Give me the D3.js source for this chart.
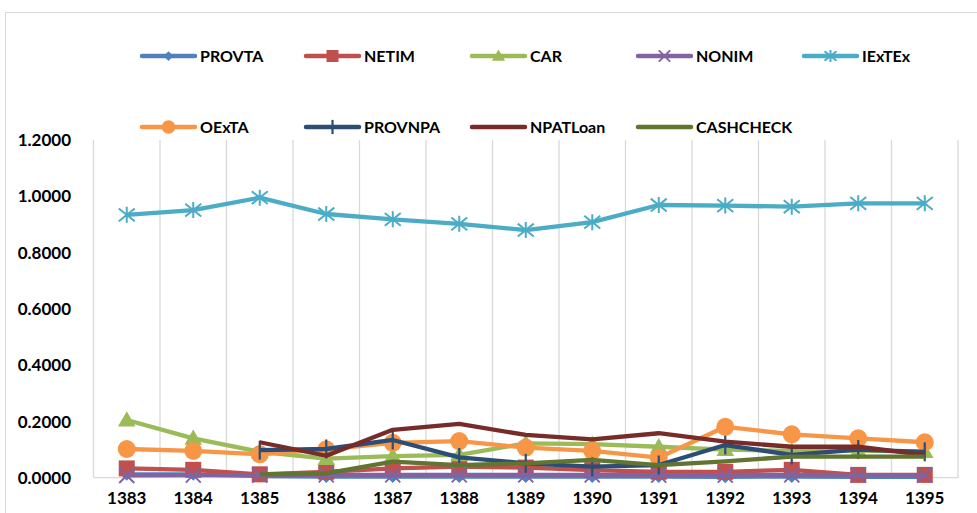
<!DOCTYPE html>
<html>
<head>
<meta charset="utf-8">
<script src="https://cdn.jsdelivr.net/npm/d3@7"></script>
<style>
  body { margin: 0; background: #fff; }
  text { font-family: Lato, "Open Sans", sans-serif; font-weight: bold; fill: #000; }
</style>
</head>
<body>
<svg width="977" height="513"></svg>
<script>
// Data
var years = ['1383', '1384', '1385', '1386', '1387', '1388', '1389', '1390', '1391', '1392', '1393', '1394', '1395'];
var yTicks = [0, 0.2, 0.4, 0.6, 0.8, 1.0, 1.2];

var PROVTA    = [0.012, 0.012, 0.006, 0.004, 0.004, 0.004, 0.004, 0.004, 0.004, 0.003, 0.004, 0.003, 0.003];
var NETIM     = [0.033, 0.028, 0.012, 0.021, 0.033, 0.039, 0.036, 0.027, 0.021, 0.021, 0.028, 0.010, 0.010];
var CAR       = [0.205, 0.140, 0.092, 0.068, 0.077, 0.081, 0.122, 0.119, 0.110, 0.100, 0.095, 0.096, 0.093];
var NONIM     = [0.008, 0.009, 0.009, 0.010, 0.010, 0.010, 0.010, 0.010, 0.009, 0.009, 0.010, 0.009, 0.009];
var IExTEx    = [0.934, 0.951, 0.995, 0.937, 0.918, 0.902, 0.880, 0.908, 0.969, 0.967, 0.963, 0.975, 0.975];
var OExTA     = [0.102, 0.095, 0.083, 0.101, 0.124, 0.130, 0.107, 0.095, 0.071, 0.181, 0.154, 0.140, 0.126];
var PROVNPA   = [null, null, 0.098, 0.102, 0.134, 0.072, 0.051, 0.039, 0.045, 0.116, 0.081, 0.100, 0.092];
var NPATLoan  = [null, null, 0.126, 0.078, 0.170, 0.191, 0.152, 0.136, 0.158, 0.128, 0.110, 0.110, 0.081];
var CASHCHECK = [null, null, 0.012, 0.015, 0.057, 0.045, 0.051, 0.063, 0.045, 0.058, 0.075, 0.075, 0.075];

var series = [
  { name: 'PROVTA', values: PROVTA, color: '#4F81BD', marker: 'diamond' },
  { name: 'NETIM', values: NETIM, color: '#C0504D', marker: 'square' },
  { name: 'CAR', values: CAR, color: '#9BBB59', marker: 'triangle' },
  { name: 'NONIM', values: NONIM, color: '#8064A2', marker: 'x' },
  { name: 'IExTEx', values: IExTEx, color: '#4BACC6', marker: 'star' },
  { name: 'OExTA', values: OExTA, color: '#F79646', marker: 'circle' },
  { name: 'PROVNPA', values: PROVNPA, color: '#2C4D75', marker: 'plus' },
  { name: 'NPATLoan', values: NPATLoan, color: '#772C2A', marker: 'none' },
  { name: 'CASHCHECK', values: CASHCHECK, color: '#5F7530', marker: 'none' }
];

var svg = d3.select('svg');

// outer chart border
svg.append('rect')
  .attr('x', 5.5).attr('y', 12.5)
  .attr('width', 1000).attr('height', 1000)
  .attr('fill', 'none').attr('stroke', '#d9d9d9');

var x = d3.scaleBand().domain(years).range([93.5, 958]).padding(0);
var y = d3.scaleLinear().domain([0, 1.2]).range([477.7, 140]);

// vertical gridlines at category boundaries
var bounds = years.map(function (d) { return x(d); }).concat([x.range()[1]]);
svg.append('g').selectAll('line')
  .data(bounds)
  .enter().append('line')
  .attr('x1', function (d) { return d; })
  .attr('x2', function (d) { return d; })
  .attr('y1', y(1.2)).attr('y2', y(0))
  .attr('stroke', '#d9d9d9').attr('stroke-width', 1.3);

// bottom axis line
svg.append('line')
  .attr('x1', x.range()[0]).attr('x2', x.range()[1])
  .attr('y1', y(0)).attr('y2', y(0))
  .attr('stroke', '#d9d9d9').attr('stroke-width', 1.3);

// y tick labels
svg.append('g').selectAll('text')
  .data(yTicks)
  .enter().append('text')
  .attr('x', 71)
  .attr('y', function (d) { return y(d); })
  .attr('dy', '0.36em')
  .attr('text-anchor', 'end')
  .style('font-size', '17px')
  .text(function (d) { return d.toFixed(4); });

// x tick labels
svg.append('g').selectAll('text')
  .data(years)
  .enter().append('text')
  .attr('x', function (d) { return x(d) + x.bandwidth() / 2; })
  .attr('y', 504)
  .attr('text-anchor', 'middle')
  .style('font-size', '17px')
  .text(function (d) { return d; });

function drawMarker(sel, type, color, s) {
  if (type === 'diamond') {
    sel.append('path').attr('d', 'M0,' + (-s) + 'L' + s + ',0L0,' + s + 'L' + (-s) + ',0Z').attr('fill', color);
  } else if (type === 'square') {
    sel.append('rect').attr('x', -s).attr('y', -s).attr('width', 2 * s).attr('height', 2 * s).attr('fill', color);
  } else if (type === 'triangle') {
    sel.append('path').attr('d', 'M0,' + (-s * 1.1) + 'L' + (s * 1.1) + ',' + (s * 0.8) + 'L' + (-s * 1.1) + ',' + (s * 0.8) + 'Z').attr('fill', color);
  } else if (type === 'circle') {
    sel.append('circle').attr('r', s).attr('fill', color);
  } else if (type === 'x') {
    sel.append('path').attr('d', 'M' + (-s) + ',' + (-s) + 'L' + s + ',' + s + 'M' + s + ',' + (-s) + 'L' + (-s) + ',' + s)
      .attr('stroke', color).attr('stroke-width', 2).attr('fill', 'none');
  } else if (type === 'star') {
    sel.append('path').attr('d', 'M' + (-s) + ',' + (-s * 0.8) + 'L' + s + ',' + (s * 0.8) + 'M' + s + ',' + (-s * 0.8) + 'L' + (-s) + ',' + (s * 0.8) + 'M0,' + (-s) + 'L0,' + s)
      .attr('stroke', color).attr('stroke-width', 2).attr('fill', 'none');
  } else if (type === 'plus') {
    sel.append('path').attr('d', 'M0,' + (-s) + 'L0,' + s)
      .attr('stroke', color).attr('stroke-width', 2.2).attr('fill', 'none');
  }
}

var markerSize = { diamond: 6.5, square: 8, triangle: 8, circle: 9, x: 7.5, star: 8, plus: 9.5 };

var line = d3.line()
  .defined(function (d) { return d != null; })
  .x(function (d, i) { return x(years[i]) + x.bandwidth() / 2; })
  .y(function (d) { return y(d); });

series.forEach(function (s) {
  var g = svg.append('g');
  g.append('path')
    .attr('d', line(s.values))
    .attr('fill', 'none')
    .attr('stroke', s.color)
    .attr('stroke-width', 4.3)
    .attr('stroke-linejoin', 'round');
  if (s.marker !== 'none') {
    g.selectAll('g.m')
      .data(s.values.map(function (v, i) { return { v: v, i: i }; }).filter(function (d) { return d.v != null; }))
      .enter().append('g')
      .attr('class', 'm')
      .attr('transform', function (d) {
        return 'translate(' + (x(years[d.i]) + x.bandwidth() / 2) + ',' + y(d.v) + ')';
      })
      .each(function () { drawMarker(d3.select(this), s.marker, s.color, markerSize[s.marker]); });
  }
});

// legend
var legX = [142, 306, 472, 638, 804];
var legY = [56, 127];
series.forEach(function (s, i) {
  var lx = legX[i % 5], ly = legY[Math.floor(i / 5)];
  var g = svg.append('g').attr('transform', 'translate(' + lx + ',' + ly + ')');
  g.append('line').attr('x1', 0).attr('x2', 53).attr('y1', 0).attr('y2', 0)
    .attr('stroke', s.color).attr('stroke-width', 4.5).attr('stroke-linecap', 'round');
  if (s.marker !== 'none') {
    var m = g.append('g').attr('transform', 'translate(26.5,0)');
    drawMarker(m, s.marker, s.color, markerSize[s.marker] * 0.75);
  }
  g.append('text').attr('x', 58).attr('y', 0).attr('dy', '0.36em')
    .style('font-size', '16px')
    .text(s.name);
});
</script>
</body>
</html>
